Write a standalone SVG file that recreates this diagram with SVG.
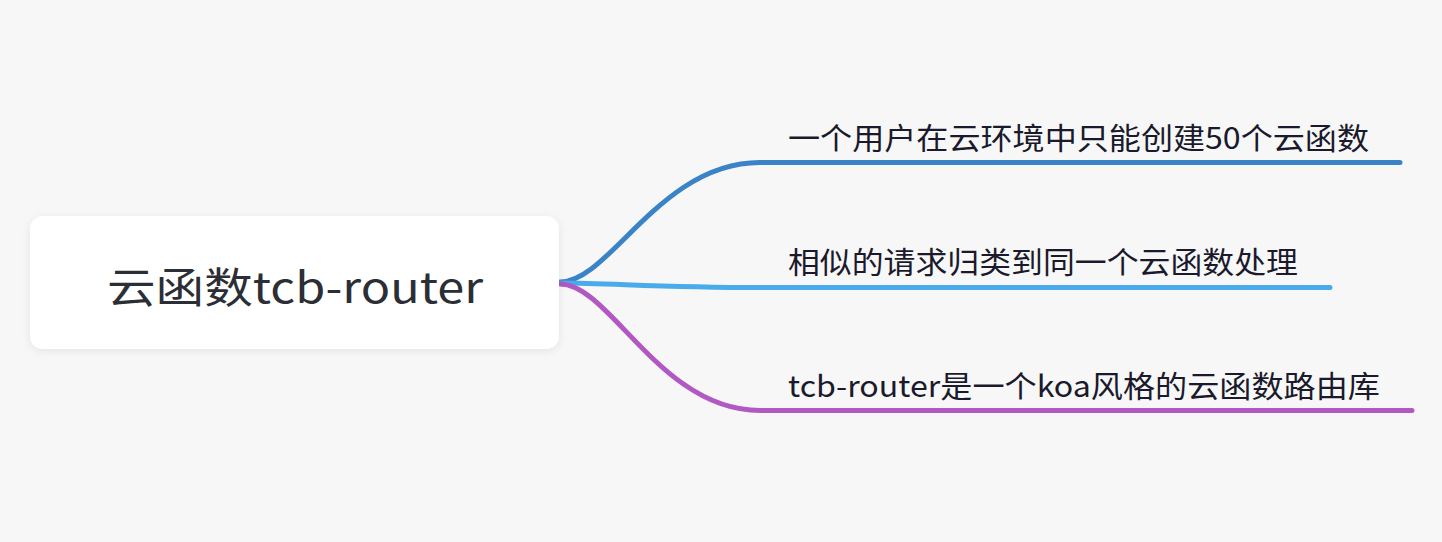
<svg xmlns="http://www.w3.org/2000/svg" width="1442" height="542" viewBox="0 0 1442 542">
  <defs>
    <filter id="shadow" x="-10%" y="-20%" width="120%" height="150%">
      <feDropShadow dx="0" dy="2" stdDeviation="4" flood-color="#000" flood-opacity="0.08"/>
    </filter>
    <style>
      .edge { fill: none; stroke-width: 5; stroke-linecap: round; }
      .root-text { font-family: "Noto Sans CJK SC", "Noto Sans", sans-serif; font-size: 42px; fill: #2c2e35; }
      .child-text { font-family: "Noto Sans CJK SC", "Noto Sans", sans-serif; font-size: 30px; fill: #1a1a2c; }
    </style>
  </defs>
  <rect x="0" y="0" width="1442" height="542" fill="#f7f7f7"/>
  <g id="connectors">
    <path class="edge" stroke="#3a83c6" d="M560,282 C610,282 660,162.5 760,162.5 H1400"/>
    <path class="edge" stroke="#4aabeb" d="M560,283 C610,283 660,287.5 760,287.5 H1330"/>
    <path class="edge" stroke="#b158c2" d="M560,284 C610,284 660,410.5 760,410.5 H1412"/>
  </g>
  <g id="root">
    <rect x="30" y="216" width="529" height="133" rx="13" ry="13" fill="#ffffff" filter="url(#shadow)"/>
    <text class="root-text" x="107" y="303" textLength="376" lengthAdjust="spacingAndGlyphs">云函数tcb-router</text>
  </g>
  <g id="child1">
    <text class="child-text" x="788" y="149" textLength="581" lengthAdjust="spacingAndGlyphs">一个用户在云环境中只能创建50个云函数</text>
  </g>
  <g id="child2">
    <text class="child-text" x="788" y="273" textLength="510" lengthAdjust="spacingAndGlyphs">相似的请求归类到同一个云函数处理</text>
  </g>
  <g id="child3">
    <text class="child-text" x="788" y="397" textLength="592" lengthAdjust="spacingAndGlyphs">tcb-router是一个koa风格的云函数路由库</text>
  </g>
</svg>
